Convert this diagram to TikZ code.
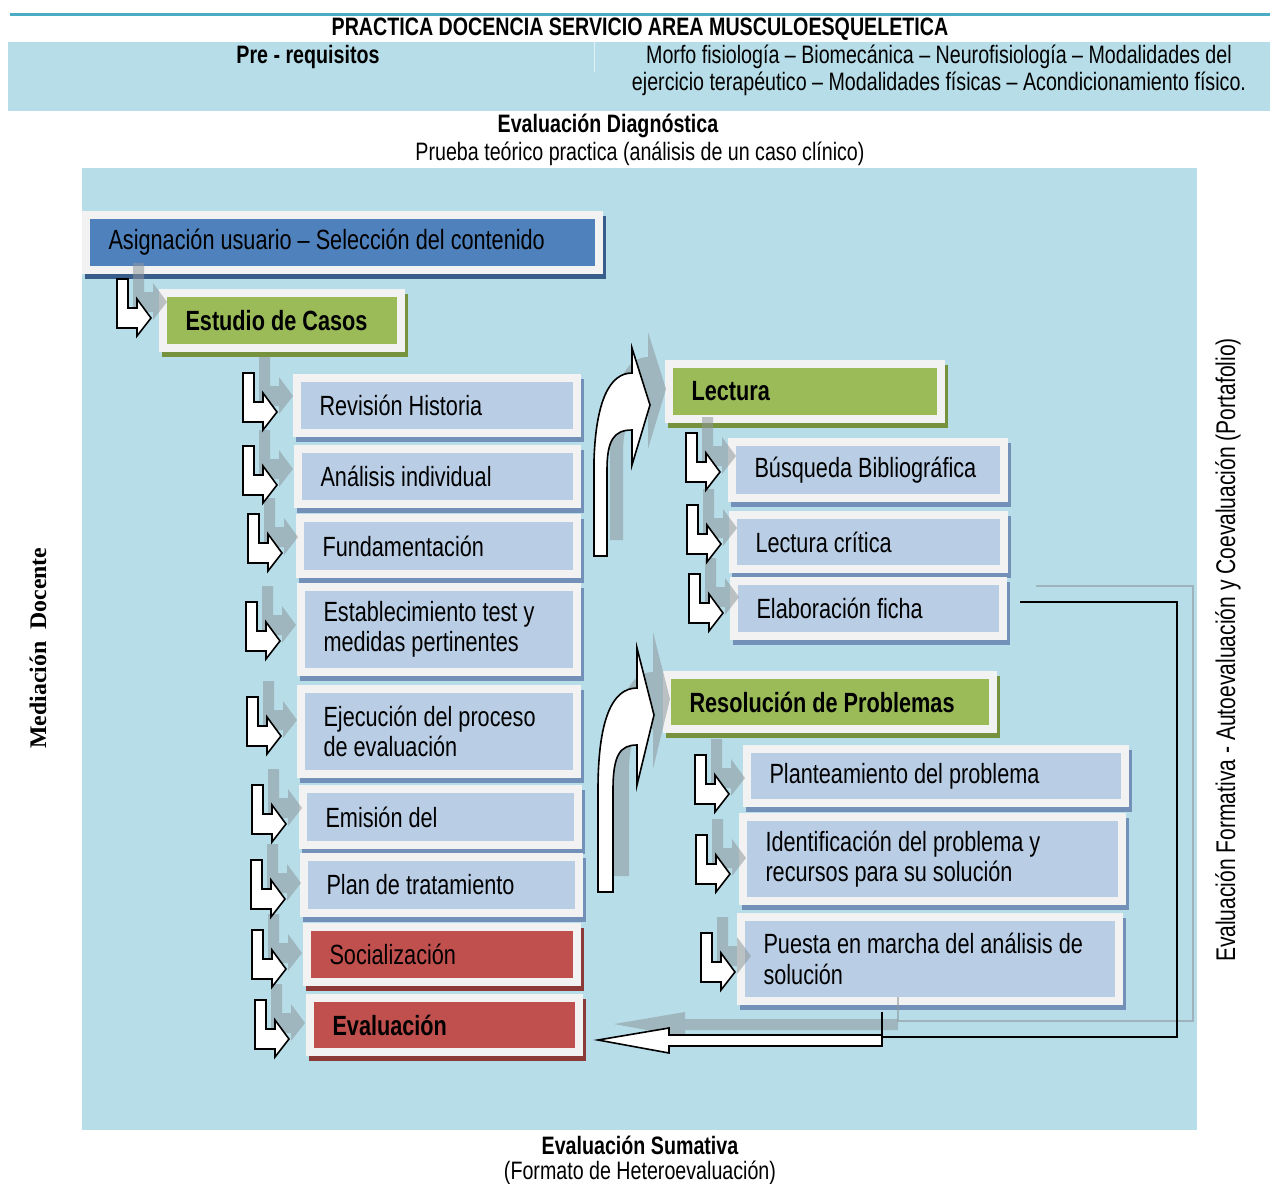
\documentclass[tikz,border=0pt]{standalone}
\usepackage{fontspec}
\setmainfont[FakeStretch=0.78]{Liberation Sans}
\newfontfamily\timesfont{Liberation Serif}

\definecolor{bgblue}{HTML}{B7DDE8}
\definecolor{tealline}{HTML}{4BACC6}
\definecolor{darkblue}{HTML}{4F81BD}
\definecolor{darkblueshade}{HTML}{385D8A}
\definecolor{boxblue}{HTML}{B9CDE5}
\definecolor{boxblueshade}{HTML}{7391B8}
\definecolor{boxgreen}{HTML}{9BBB59}
\definecolor{boxgreenshade}{HTML}{76923C}
\definecolor{boxred}{HTML}{C0504D}
\definecolor{boxredshade}{HTML}{8C3A38}
\definecolor{framegray}{HTML}{F2F2F2}
\definecolor{arrowgray}{HTML}{8E979D}

\newcommand{\boxfont}{\fontsize{13.9}{15.2}\selectfont}
\newcommand{\headfont}{\fontsize{12.6}{13.6}\selectfont}
\newcommand{\sidefont}{\fontsize{13.5}{14}\selectfont}

\begin{document}
\begin{tikzpicture}[x=0.5pt, y=-0.5pt, every node/.style={font=\boxfont, inner sep=0pt},
	box/.style={draw=framegray, line width=4pt, align=left, inner xsep=11.25pt, inner ysep=0pt, minimum height=27.5pt,
		execute at begin node={\spaceskip=0pt\xspaceskip=0pt\relax}},
	boxshadow/.style={preaction={draw=#1, fill=#1, line width=4pt, transform canvas={shift={(1.5pt,-2.5pt)}}}},
	bluebox/.style={box, fill=boxblue, boxshadow=boxblueshade},
	greenbox/.style={box, fill=boxgreen, boxshadow=boxgreenshade, font=\boxfont\bfseries},
	redbox/.style={box, fill=boxred, boxshadow=boxredshade},
	whitearrow/.style={fill=white, draw=black, line width=0.8pt},
	arrowshade/.style={fill=arrowgray, fill opacity=0.55, draw=none}]
			\useasboundingbox (0,0) rectangle (1276,1184);
			% Header band and background
			\fill[white] (0,0) rectangle (1276,1184);
			\draw[tealline, line width=1.5pt] (10,14) -- (1270,14);
			\fill[bgblue] (8,42) rectangle (1270,111);
			\draw[white, line width=0.4pt, opacity=0.6] (594,42) -- (594,72);
			\fill[bgblue] (82,168) rectangle (1197,1130);
			
			% Header and side texts
			\node[font=\headfont\bfseries] (title) at (640,29) {PRACTICA DOCENCIA SERVICIO AREA MUSCULOESQUELETICA};
			\node[font=\headfont\bfseries] (prereq) at (308,57) {Pre - requisitos};
			\node[font=\headfont, align=center] (prelist) at (939,70.5) {Morfo fisiología – Biomecánica – Neurofisiología – Modalidades del\\ejercicio terapéutico – Modalidades físicas – Acondicionamiento físico.};
			\node[font=\headfont\bfseries] (diag) at (608,126) {Evaluación Diagnóstica};
			\node[font=\headfont] (diagtxt) at (640,154) {Prueba teórico practica (análisis de un caso clínico)};
			\node[font=\headfont\bfseries] (sumat) at (640,1145) {Evaluación Sumativa};
			\node[font=\headfont] (sumattxt) at (640,1173) {(Formato de Heteroevaluación)};
			\node[rotate=90, font=\sidefont] (formativa) at (1228,650) {Evaluación Formativa - Autoevaluación y Coevaluación (Portafolio)};
			\node[rotate=90, font=\timesfont\fontsize{11.9}{13}\selectfont\bfseries] (mediacion) at (38,648) {Mediación~~Docente};
			
			% Boxes, left column
			\node[box, fill=darkblue, boxshadow=darkblueshade, text width=234pt] (asig) at (342.5,242.5) {Asignación usuario – Selección del contenido};
			\node[greenbox, text width=96.5pt] (estudio) at (282,320.5) {Estudio de Casos};
			\node[bluebox, text width=117.5pt] (historia) at (437,405.5) {Revisión Historia};
			\node[bluebox, text width=117pt] (analisis) at (437.5,476.5) {Análisis individual};
			\node[bluebox, text width=116pt, minimum height=28pt] (fundam) at (438.5,546) {Fundamentación};
			\node[bluebox, text width=115.5pt, minimum height=42.5pt] (pruebas) at (439,629.5) {Establecimiento test y\\medidas pertinentes};
			\node[bluebox, text width=115.5pt, minimum height=42.5pt] (ejecucion) at (439,731.5) {Ejecución del proceso\\de evaluación};
			\node[bluebox, text width=115pt, minimum height=28pt] (emision) at (440.5,817) {Emisión del};
			\node[bluebox, text width=115pt, minimum height=28pt] (plan) at (441.5,885) {Plan de tratamiento};
			\node[redbox, text width=112.5pt] (social) at (442,954.5) {Socialización};
			\node[redbox, text width=112pt, minimum height=27pt, font=\boxfont\bfseries] (evalua) at (444.5,1025) {Evaluación};
			
			% Boxes, right column
			\node[greenbox, text width=113.5pt] (lectura) at (805,391.5) {Lectura};
			\node[bluebox, text width=113.5pt, minimum height=28pt] (busqueda) at (868,470) {Búsqueda Bibliográfica};
			\node[bluebox, text width=113pt, minimum height=27pt] (critica) at (868.5,542) {Lectura crítica};
			\node[bluebox, text width=112pt] (ficha) at (868.5,608.5) {Elaboración ficha};
			\node[greenbox, text width=140.5pt, minimum height=27pt] (resol) at (830,702) {Resolución de Problemas};
			\node[bluebox, text width=166.5pt, minimum height=27pt] (plantea) at (936,776) {Planteamiento del problema};
			\node[bluebox, text width=167pt, minimum height=42pt] (identif) at (932.5,859) {Identificación del problema y\\recursos para su solución};
			\node[bluebox, text width=166.5pt, minimum height=42pt] (puesta) at (930,959) {Puesta en marcha del análisis de\\solución};
			
			% Bent arrows (shadow first, then white)
			\foreach \ax/\ay in {117/279, 243/373, 243/446, 248/514, 246/602, 247/697, 252/785, 251/860, 252/930, 255/1000, 686/433, 687/505, 689/574, 695/755, 696/835, 701/933}
				\fill[arrowshade, shift={(\ax+16,\ay-16)}] (0,0) -- (0,49) -- (20,49) -- (20,57) -- (34,39) -- (20,20) -- (20,29) -- (11,29) -- (11,0) -- cycle;
			\foreach \ax/\ay in {117/279, 243/373, 243/446, 248/514, 246/602, 247/697, 252/785, 251/860, 252/930, 255/1000, 686/433, 687/505, 689/574, 695/755, 696/835, 701/933}
				\draw[whitearrow, shift={(\ax,\ay)}] (0,0) -- (0,49) -- (20,49) -- (20,57) -- (34,39) -- (20,20) -- (20,29) -- (11,29) -- (11,0) -- cycle;
			
			% Curved arrows to Lectura and Resolucion
			\foreach \dx/\dy/\sty in {16/-16/arrowshade, 0/0/whitearrow} {
				\path[\sty, shift={(\dx,\dy)}] (594,556) -- (594,460) .. controls (596,400) and (610,373) .. (632,373) -- (632,348) -- (650,405) -- (632,465) -- (632,430) .. controls (614,430) and (607,440) .. (607,470) -- (607,556) -- cycle;
				\path[\sty, shift={(\dx,\dy)}] (598,892) -- (598,790) .. controls (598,720) and (612,688) .. (637,688) -- (637,648) -- (654,715) -- (637,785) -- (637,745) .. controls (620,745) and (613,755) .. (613,790) -- (613,892) -- cycle;
			}
			
			% Return from Elaboracion ficha to Evaluacion
			\coordinate (retcorner) at (1177,1037);
			\coordinate (retend) at (882,1037);
			\draw[arrowgray, line width=1pt, opacity=0.6] ([shift={(29,-22.5)}]ficha.east) -| ([shift={(16,-16)}]retcorner) -- ([shift={(16,-16)}]retend) -- (898,997);
			\fill[arrowshade] (898,1019) -- (685,1019) -- (685,1012) -- (614,1024) -- (685,1037) -- (685,1030) -- (898,1030) -- cycle;
			\draw[black, line width=0.9pt] ([shift={(13,-6.5)}]ficha.east) -| (retcorner) -- (retend);
			\draw[whitearrow] (retend) ++(0,-2) -- (669,1035) -- (669,1028) -- (598,1040) -- (669,1053) -- (669,1046) -- (882,1046) -- cycle;
			\draw[black, line width=0.8pt] (882,1046) -- (882,1012);
		\end{tikzpicture}
\end{document}
